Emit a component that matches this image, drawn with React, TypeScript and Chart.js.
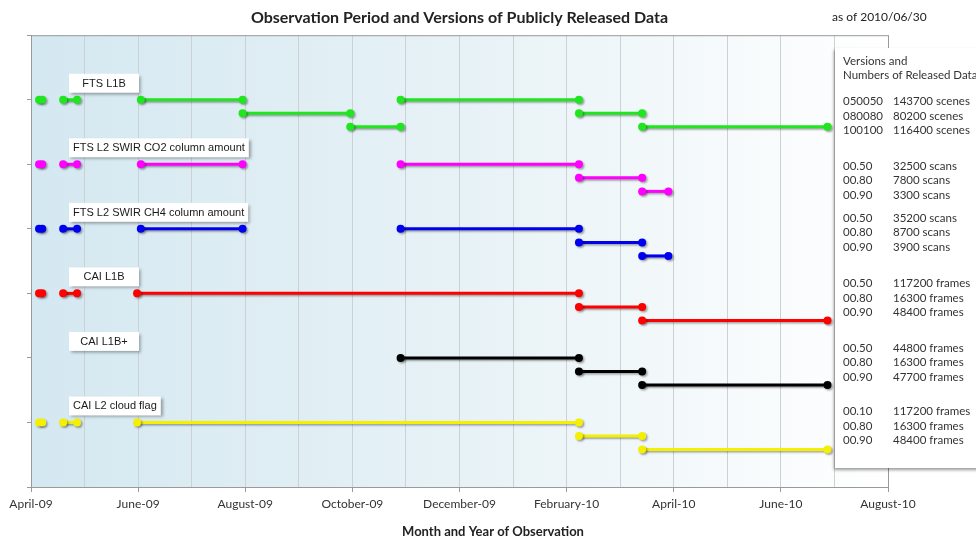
import React, { useEffect, useRef } from "react";
import { Chart, registerables } from "chart.js";

Chart.register(...registerables);

// x values are months counted from 1 April 2009
const monthLabels = [
  "April-09", "May-09", "June-09", "July-09", "August-09", "September-09",
  "October-09", "November-09", "December-09", "January-10", "February-10",
  "March-10", "April-10", "May-10", "June-10", "July-10", "August-10",
];

const productNames = [
  "FTS L1B",
  "FTS L2 SWIR CO2 column amount",
  "FTS L2 SWIR CH4 column amount",
  "CAI L1B",
  "CAI L1B+",
  "CAI L2 cloud flag",
];
const productColors = ["#1fe61f", "#ff00ff", "#0000f0", "#ff0000", "#000000", "#f4f000"];
const productRows = [6, 5, 4, 3, 2, 1];
const subRowStep = 0.21;

// segments: [start month, end month, version sub-row]
const ftsL1bSegments = [
  [0.15, 0.21, 0], [0.6, 0.86, 0], [2.05, 3.95, 0], [3.95, 5.96, 1],
  [5.96, 6.9, 2], [6.9, 10.23, 0], [10.23, 11.41, 1], [11.41, 14.87, 2],
];
const co2Segments = [
  [0.15, 0.21, 0], [0.6, 0.86, 0], [2.05, 3.95, 0], [6.9, 10.23, 0],
  [10.23, 11.41, 1], [11.41, 11.9, 2],
];
const ch4Segments = [
  [0.15, 0.21, 0], [0.6, 0.86, 0], [2.05, 3.95, 0], [6.9, 10.23, 0],
  [10.23, 11.41, 1], [11.41, 11.9, 2],
];
const caiL1bSegments = [
  [0.15, 0.21, 0], [0.6, 0.86, 0], [1.98, 10.23, 0], [10.23, 11.41, 1],
  [11.41, 14.87, 2],
];
const caiL1bPlusSegments = [
  [6.9, 10.23, 0], [10.23, 11.41, 1], [11.41, 14.87, 2],
];
const cloudSegments = [
  [0.15, 0.21, 0], [0.6, 0.86, 0], [1.98, 10.23, 0], [10.23, 11.41, 1],
  [11.41, 14.87, 2],
];

const ftsL1bVersions = ["050050", "080080", "100100"];
const ftsL1bCounts = ["143700 scenes", "80200 scenes", "116400 scenes"];
const co2Versions = ["00.50", "00.80", "00.90"];
const co2Counts = ["32500 scans", "7800 scans", "3300 scans"];
const ch4Versions = ["00.50", "00.80", "00.90"];
const ch4Counts = ["35200 scans", "8700 scans", "3900 scans"];
const caiL1bVersions = ["00.50", "00.80", "00.90"];
const caiL1bCounts = ["117200 frames", "16300 frames", "48400 frames"];
const caiL1bPlusVersions = ["00.50", "00.80", "00.90"];
const caiL1bPlusCounts = ["44800 frames", "16300 frames", "47700 frames"];
const cloudVersions = ["00.10", "00.80", "00.90"];
const cloudCounts = ["117200 frames", "16300 frames", "48400 frames"];

const titleText = "Observation Period and Versions of Publicly Released Data";
const asOfText = "as of 2010/06/30";
const xAxisTitle = "Month and Year of Observation";
const panelHeader = ["Versions and", "Numbers of Released Data"];

const allSegments = [ftsL1bSegments, co2Segments, ch4Segments, caiL1bSegments, caiL1bPlusSegments, cloudSegments];
const allVersions = [ftsL1bVersions, co2Versions, ch4Versions, caiL1bVersions, caiL1bPlusVersions, cloudVersions];
const allCounts = [ftsL1bCounts, co2Counts, ch4Counts, caiL1bCounts, caiL1bPlusCounts, cloudCounts];

const decorPlugin = {
  id: "decor",
  beforeDraw(chart: any) {
    const { ctx, chartArea: a } = chart;
    ctx.save();
    const g = ctx.createLinearGradient(a.left, 0, a.right, 0);
    g.addColorStop(0, "#d4e8f1");
    g.addColorStop(0.5, "#e7f2f6");
    g.addColorStop(1, "#ffffff");
    ctx.fillStyle = g;
    ctx.fillRect(a.left, a.top, a.right - a.left, a.bottom - a.top);
    ctx.restore();
  },
  beforeDatasetsDraw(chart: any) {
    const { ctx, chartArea: a } = chart;
    ctx.save();
    ctx.strokeStyle = "#9a9a9a";
    ctx.lineWidth = 1;
    ctx.strokeRect(a.left + 0.5, a.top + 0.5, a.right - a.left, a.bottom - a.top);
    ctx.restore();
    ctx.save();
    ctx.shadowColor = "rgba(0,0,0,0.35)";
    ctx.shadowBlur = 2;
    ctx.shadowOffsetX = 1.5;
    ctx.shadowOffsetY = 1.5;
  },
  afterDatasetsDraw(chart: any) {
    const { ctx } = chart;
    ctx.restore();
    const xs = chart.scales.x;
    const ys = chart.scales.y;
    ctx.save();
    ctx.font = "11px 'Liberation Sans', Arial, sans-serif";
    ctx.textBaseline = "middle";
    ctx.textAlign = "center";
    productNames.forEach((name, i) => {
      const left = xs.getPixelForValue(0.71);
      const rowY = ys.getPixelForValue(productRows[i]);
      const tw = ctx.measureText(name).width;
      const w = Math.max(70, tw + 8);
      const h = 19;
      const top = rowY - 7 - h;
      ctx.save();
      ctx.shadowColor = "rgba(0,0,0,0.35)";
      ctx.shadowBlur = 3;
      ctx.shadowOffsetX = 2;
      ctx.shadowOffsetY = 2;
      ctx.fillStyle = "#ffffff";
      ctx.fillRect(left, top, w, h);
      ctx.restore();
      ctx.fillStyle = "#1a1a1a";
      ctx.fillText(name, left + w / 2, top + h / 2 + 0.5);
    });
    ctx.restore();
  },
  afterDraw(chart: any) {
    const { ctx } = chart;
    const ys = chart.scales.y;
    ctx.save();
    // legend panel
    ctx.save();
    ctx.shadowColor = "rgba(0,0,0,0.4)";
    ctx.shadowBlur = 3;
    ctx.shadowOffsetX = -1;
    ctx.shadowOffsetY = 2;
    ctx.fillStyle = "#ffffff";
    ctx.fillRect(835, 48, 160, 420);
    ctx.restore();
    ctx.fillStyle = "#333333";
    ctx.font = "11.5px Lato, 'Open Sans', sans-serif";
    ctx.textBaseline = "middle";
    ctx.textAlign = "left";
    ctx.fillText(panelHeader[0], 843, 61);
    ctx.fillText(panelHeader[1], 843, 75);
    const groupOffsets = [2, 2, -11, -10, -10, -11];
    allVersions.forEach((vers, i) => {
      const y0 = ys.getPixelForValue(productRows[i]) + groupOffsets[i];
      vers.forEach((v, k) => {
        const y = y0 + k * 14.5;
        ctx.fillText(v, 843, y);
        ctx.fillText(allCounts[i][k], 893, y);
      });
    });
    // title extras
    ctx.fillStyle = "#222222";
    ctx.font = "12px Lato, 'Open Sans', sans-serif";
    ctx.fillText(asOfText, 832, 17);
    ctx.font = "bold 13px Lato, 'Open Sans', sans-serif";
    ctx.textAlign = "center";
    ctx.fillText(xAxisTitle, 493, 532);
    ctx.restore();
  },
};

export default function App() {
  const ref = useRef<HTMLCanvasElement | null>(null);
  useEffect(() => {
    document.body.style.margin = "0";
    const datasets: any[] = [];
    allSegments.forEach((segs, i) => {
      segs.forEach(([s, e, sub]) => {
        const y = productRows[i] - sub * subRowStep;
        datasets.push({
          label: productNames[i],
          data: [{ x: s, y }, { x: e, y }],
          showLine: true,
          borderColor: productColors[i],
          backgroundColor: productColors[i],
          borderWidth: 3,
          pointRadius: 4,
          pointBorderWidth: 0,
          pointHoverRadius: 4,
          clip: false,
        });
      });
    });
    const chart = new Chart(ref.current as HTMLCanvasElement, {
      type: "scatter",
      data: { datasets },
      options: {
        animation: false,
        responsive: false,
        devicePixelRatio: 1,
        layout: { padding: { left: 0, right: 88, top: 0, bottom: 0 } },
        plugins: {
          legend: { display: false },
          tooltip: { enabled: false },
          title: {
            display: true,
            text: titleText,
            fullSize: false,
            color: "#222222",
            font: { family: "Lato, 'Open Sans', sans-serif", size: 16, weight: "bold" },
            padding: { top: 8, bottom: 8 },
          },
        },
        scales: {
          x: {
            type: "linear",
            min: 0,
            max: 16,
            afterFit: (s: any) => { s.height = 51; },
            border: { display: true, color: "#9a9a9a" },
            grid: {
              color: "#cdd1d4",
              tickLength: 5,
              tickColor: (c: any) => (c.tick && c.tick.value % 2 === 0 ? "#9a9a9a" : "rgba(0,0,0,0)"),
            },
            ticks: {
              stepSize: 1,
              autoSkip: false,
              maxRotation: 0,
              padding: 5,
              color: "#333333",
              font: { family: "Lato, 'Open Sans', sans-serif", size: 12 },
              callback: (v: any) => (Number(v) % 2 === 0 ? monthLabels[Number(v)] : ""),
            },
          },
          y: {
            type: "linear",
            min: 0,
            max: 7,
            afterFit: (s: any) => { s.width = 31; },
            border: { display: true, color: "#9a9a9a" },
            grid: { drawOnChartArea: false, tickLength: 4, tickColor: "#9a9a9a" },
            ticks: { stepSize: 1, callback: () => "" },
          },
        },
      },
      plugins: [decorPlugin],
    } as any);
    return () => chart.destroy();
  }, []);
  return (
    <div style={{ width: 976, height: 538 }}>
      <canvas ref={ref} width={976} height={538} />
    </div>
  );
}
